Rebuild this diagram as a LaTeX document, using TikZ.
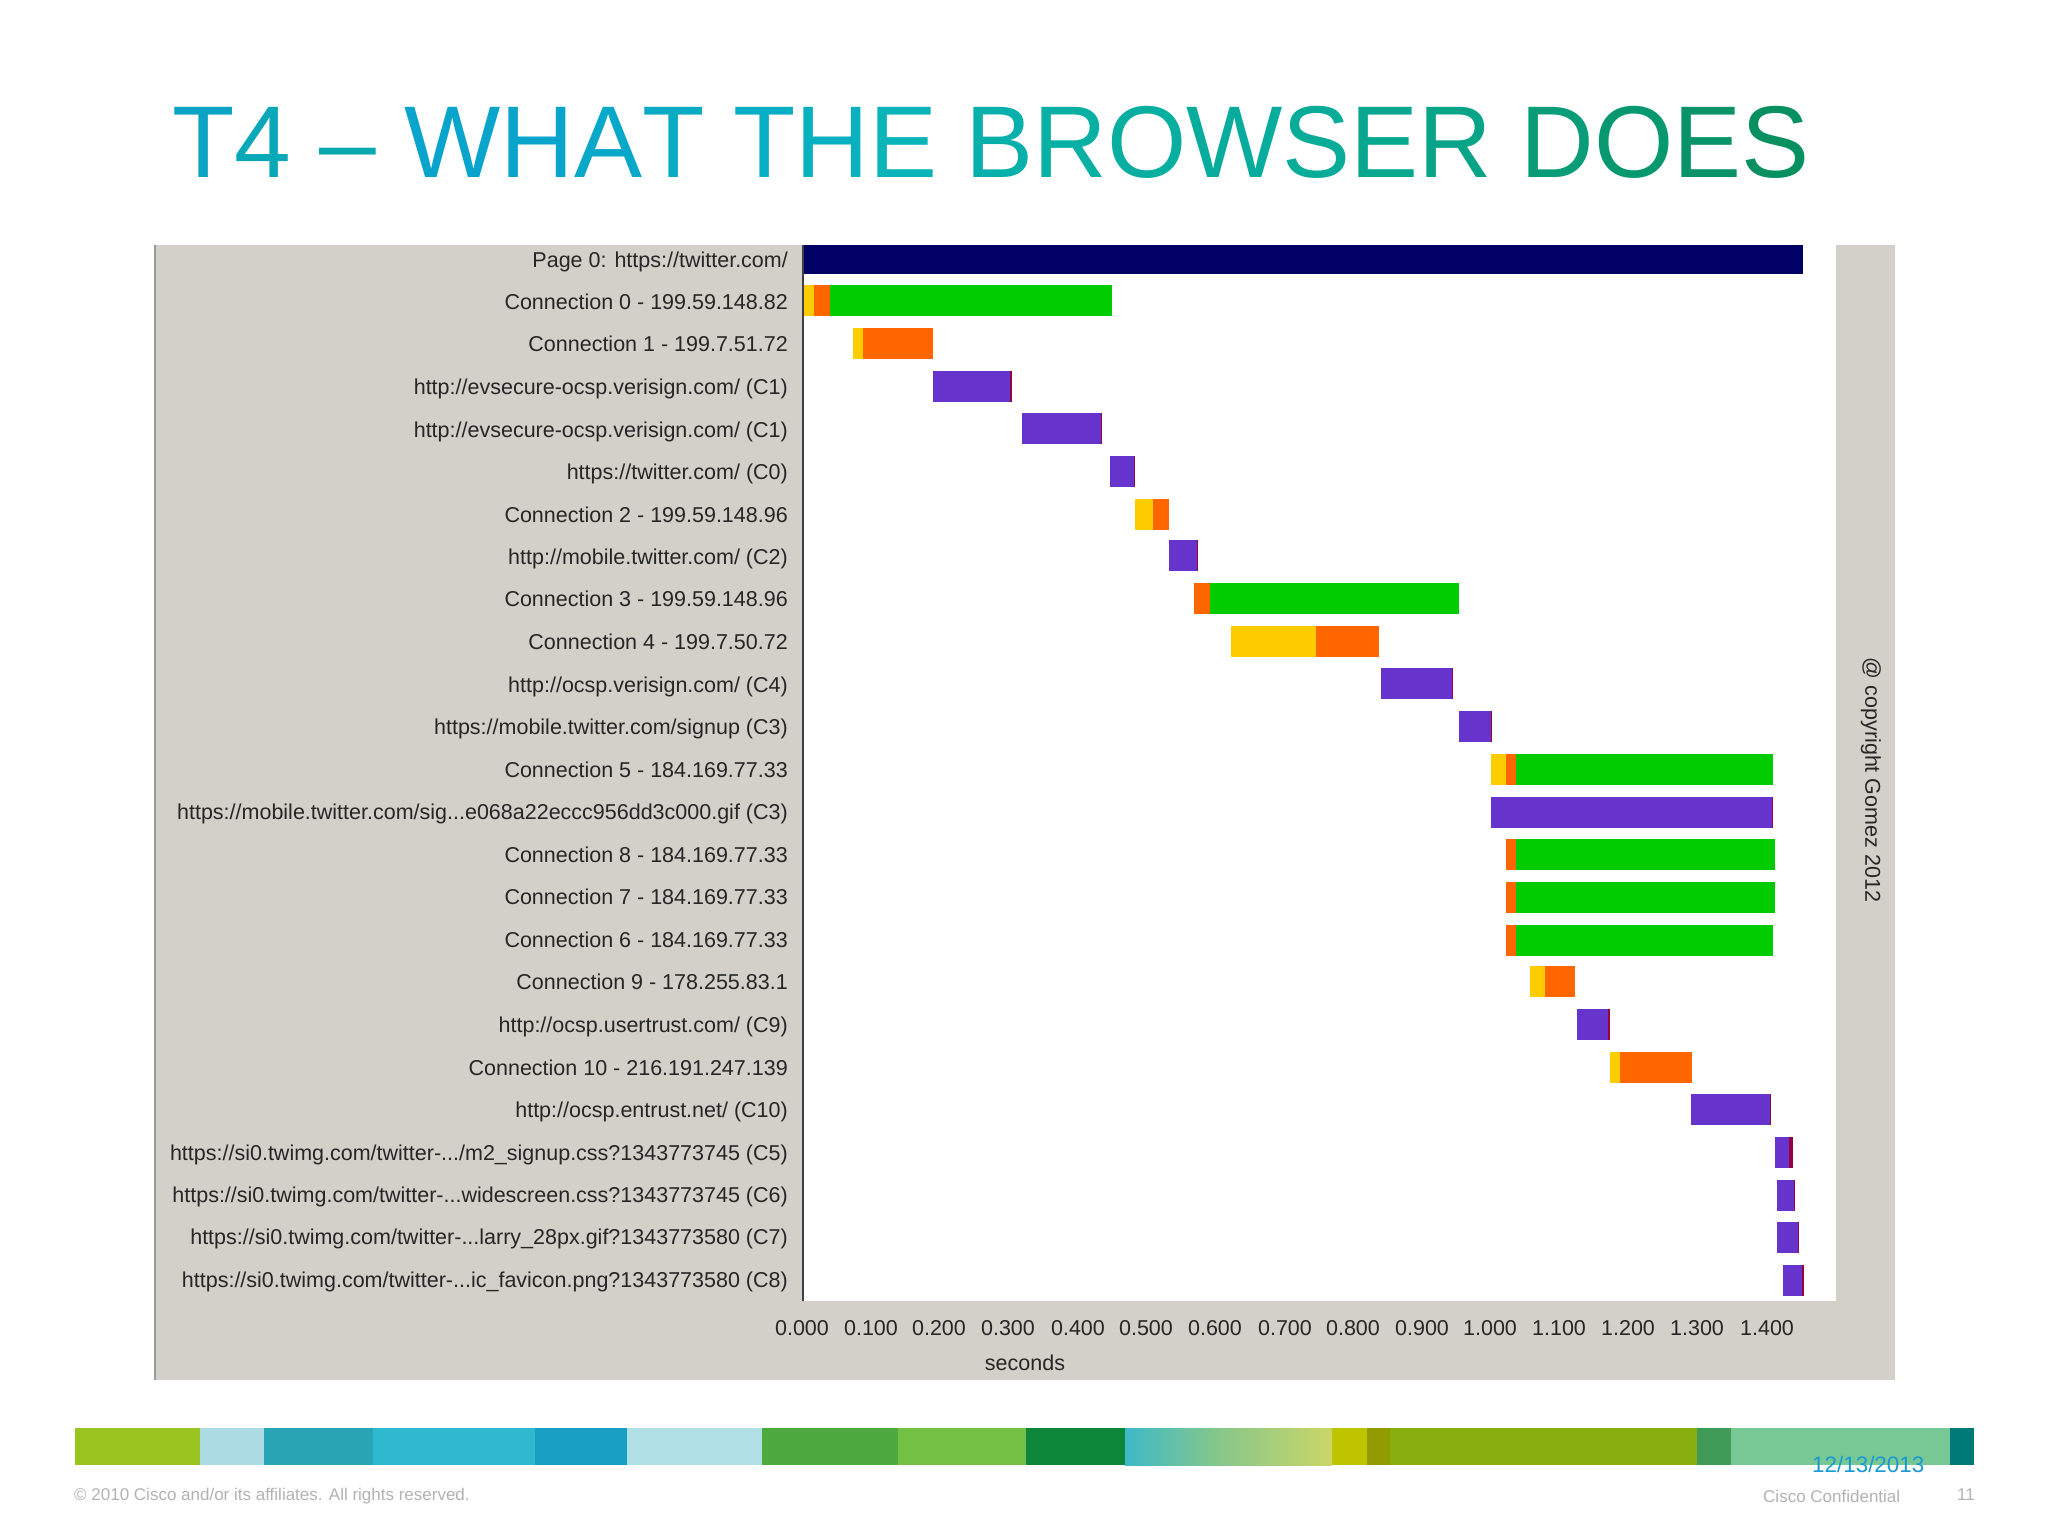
\documentclass[tikz,border=0pt]{standalone}
\usepackage{fontspec}
\setmainfont{Liberation Sans}
\definecolor{panel}{HTML}{D3CFC9}
\definecolor{navybar}{HTML}{000066}
\definecolor{yel}{HTML}{FFCC00}
\definecolor{org}{HTML}{FF6600}
\definecolor{grn}{HTML}{00CC00}
\definecolor{pur}{HTML}{6633CC}
\definecolor{endred}{HTML}{990044}
\definecolor{dateblue}{HTML}{1A9AD0}
\newcommand{\lt}[2]{\textcolor[HTML]{#1}{#2}}
\tikzset{x=1pt,y=-1pt,
 lbl/.style={anchor=base east,inner sep=0pt,font=\fontsize{21.5}{24}\selectfont,text=black!85},
 tick/.style={anchor=center,inner sep=0pt,font=\fontsize{21.5}{24}\selectfont,text=black!85},
 foot/.style={anchor=west,inner sep=0pt,font=\fontsize{17}{20}\selectfont,text=black!30}}
\newcommand{\seg}[4]{\fill[#4] (#1,#3-15.5) rectangle (#2,#3+15.5);}
\begin{document}
\begin{tikzpicture}
\useasboundingbox (0,0) rectangle (2048,1536);
\fill[white] (0,0) rectangle (2048,1536);
\node[anchor=base west,inner sep=0pt,font=\fontsize{102}{110}\selectfont] (title) at (172,177)
 {\lt{0AA3C4}{T}\lt{08A8B8}{4}\ \lt{08A8B0}{–}\ \lt{08A4CC}{W}\lt{08A4CC}{H}\lt{08A8C8}{A}\lt{08ABC4}{T}\ \lt{08AEC4}{T}\lt{08B0C0}{H}\lt{08B4B8}{E}\ \lt{08B0AC}{B}\lt{08B0A4}{R}\lt{08AEA0}{O}\lt{08AC9C}{W}\lt{08AC98}{S}\lt{08A890}{E}\lt{08A488}{R}\ \lt{089C78}{D}\lt{089870}{O}\lt{089468}{E}\lt{089060}{S}};
\fill[panel] (155,245) rectangle (1895,1380);
\fill[white] (803,245) rectangle (1836,1301);
\draw[black!40,line width=1.5pt] (155,245) -- (155,1380);
\draw[black!75,line width=1.5pt] (803,245) -- (803,1301);
\fill[navybar] (804,245) rectangle (1803,274);
\foreach \t/\y in {{Page 0: https://twitter.com/}/259.5,{Connection 0 - 199.59.148.82}/302,{Connection 1 - 199.7.51.72}/344,{http://evsecure-ocsp.verisign.com/ (C1)}/387,{http://evsecure-ocsp.verisign.com/ (C1)}/430,{https://twitter.com/ (C0)}/472,{Connection 2 - 199.59.148.96}/515,{http://mobile.twitter.com/ (C2)}/557,{Connection 3 - 199.59.148.96}/599,{Connection 4 - 199.7.50.72}/642,{http://ocsp.verisign.com/ (C4)}/685,{https://mobile.twitter.com/signup (C3)}/727,{Connection 5 - 184.169.77.33}/770,{https://mobile.twitter.com/sig...e068a22eccc956dd3c000.gif (C3)}/812,{Connection 8 - 184.169.77.33}/855,{Connection 7 - 184.169.77.33}/897,{Connection 6 - 184.169.77.33}/940,{Connection 9 - 178.255.83.1}/982,{http://ocsp.usertrust.com/ (C9)}/1025,{Connection 10 - 216.191.247.139}/1068,{http://ocsp.entrust.net/ (C10)}/1110,{https://si0.twimg.com/twitter-.../m2\_signup.css?1343773745 (C5)}/1153,{https://si0.twimg.com/twitter-...widescreen.css?1343773745 (C6)}/1195,{https://si0.twimg.com/twitter-...larry\_28px.gif?1343773580 (C7)}/1237,{https://si0.twimg.com/twitter-...ic\_favicon.png?1343773580 (C8)}/1280}
 {\node[lbl] at (788,\y+7.7) {\t};}
\seg{804}{814}{300}{yel}\seg{814}{830}{300}{org}\seg{830}{1112}{300}{grn}
\seg{853}{863}{343.5}{yel}\seg{863}{933}{343.5}{org}
\seg{933}{1011}{386.5}{pur}\seg{1010}{1011.5}{386.5}{endred}
\seg{1022}{1102}{428}{pur}\seg{1100.5}{1102}{428}{endred}
\seg{1110}{1135}{471}{pur}\seg{1133.5}{1135}{471}{endred}
\seg{1135}{1153}{514}{yel}\seg{1153}{1169}{514}{org}
\seg{1169}{1198}{555}{pur}\seg{1196.5}{1198}{555}{endred}
\seg{1194}{1210}{598.5}{org}\seg{1210}{1459}{598.5}{grn}
\seg{1231}{1316}{641.5}{yel}\seg{1316}{1379}{641.5}{org}
\seg{1381}{1453}{683}{pur}\seg{1451.5}{1453}{683}{endred}
\seg{1459}{1492}{726}{pur}\seg{1490.5}{1492}{726}{endred}
\seg{1491}{1506}{769.5}{yel}\seg{1506}{1516}{769.5}{org}\seg{1516}{1773}{769.5}{grn}
\seg{1491}{1773}{812}{pur}\seg{1771.5}{1773}{812}{endred}
\seg{1506}{1516}{854}{org}\seg{1516}{1775}{854}{grn}
\seg{1506}{1516}{897}{org}\seg{1516}{1775}{897}{grn}
\seg{1506}{1516}{940}{org}\seg{1516}{1773}{940}{grn}
\seg{1530}{1545}{981}{yel}\seg{1545}{1575}{981}{org}
\seg{1577}{1610}{1024}{pur}\seg{1608}{1610}{1024}{endred}
\seg{1610}{1620}{1067.5}{yel}\seg{1620}{1692}{1067.5}{org}
\seg{1691}{1771}{1109}{pur}\seg{1769.5}{1771}{1109}{endred}
\seg{1775}{1793}{1152}{pur}\seg{1789}{1793}{1152}{endred}
\seg{1777}{1795}{1195}{pur}\seg{1793.5}{1795}{1195}{endred}
\seg{1777}{1799}{1237}{pur}\seg{1797.5}{1799}{1237}{endred}
\seg{1783}{1804}{1280}{pur}\seg{1802}{1804}{1280}{endred}
\foreach \x/\t in {802/0.000,871/0.100,939/0.200,1008/0.300,1078/0.400,1146/0.500,1215/0.600,1285/0.700,1353/0.800,1422/0.900,1490/1.000,1559/1.100,1628/1.200,1697/1.300,1767/1.400}
 {\node[tick] at (\x,1328) {\t};}
\node[tick] (secs) at (1025,1363) {seconds};
\node[tick,rotate=-90] (copy) at (1871,780) {@ copyright Gomez 2012};
\foreach \a/\b/\c in {75/200/9AC41F,200/264/ADDCE4,264/373/2AA5B5,373/535/2FB9CF,535/627/179FC4,627/762/B0DFE4,762/898/4CAA3E,898/1026/74C044,1026/1125/0C873A,1332/1367/BEC400,1367/1390/929C00,1390/1697/88AE10,1697/1731/409A58,1731/1950/78C896,1950/1974/007A78}
 {\definecolor{barc}{HTML}{\c}\fill[barc] (\a,1428) rectangle (\b,1465);}
\definecolor{gradA}{HTML}{3EB9C8}
\definecolor{gradB}{HTML}{84C68C}
\definecolor{gradC}{HTML}{CCD668}
\fill[left color=gradA,right color=gradB] (1125,1428) rectangle (1215,1465);
\fill[left color=gradB,right color=gradC] (1215,1428) rectangle (1332,1465);
\node[foot] (cr) at (74,1496) {© 2010 Cisco and/or its affiliates. All rights reserved.};
\node[foot] (cc) at (1763,1496) {Cisco Confidential};
\node[foot] (pg) at (1957,1495) {11};
\node[anchor=west,inner sep=0pt,font=\fontsize{22.4}{24}\selectfont,text=dateblue] (dt) at (1812,1464) {12/13/2013};
\end{tikzpicture}
\end{document}
